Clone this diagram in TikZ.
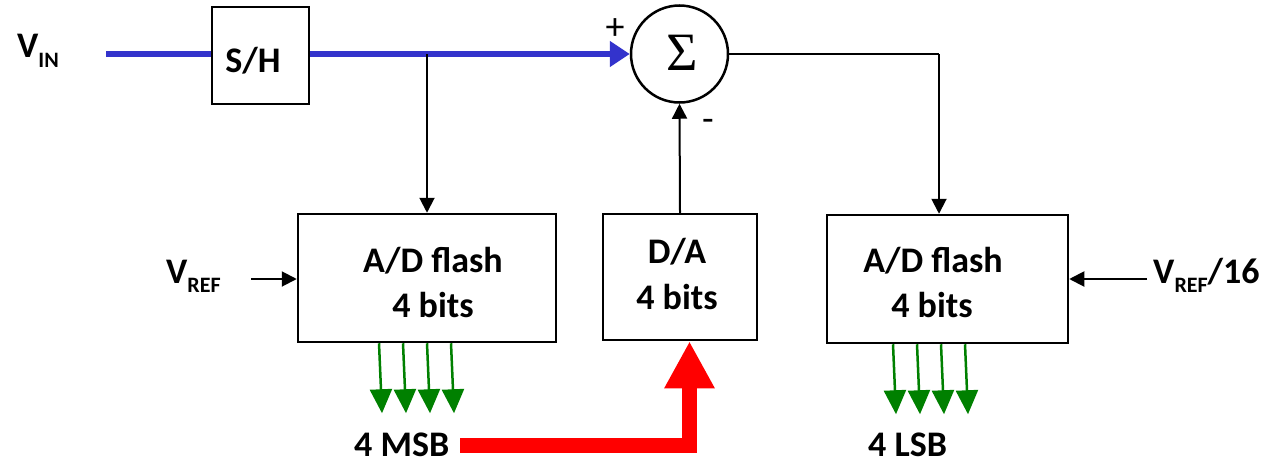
\documentclass[tikz,border=0pt]{standalone}
\usepackage{fontspec}
\setmainfont{Carlito}
\newfontfamily\sigmafont{Liberation Serif}
\usetikzlibrary{arrows.meta}

% lowered subscript for the voltage labels
\newcommand{\lowsub}[2][10pt]{\raisebox{-#1}{\fontsize{22}{22}\selectfont #2}}

\definecolor{sigblue}{RGB}{51,51,204}
\definecolor{bitgreen}{RGB}{0,128,0}

\tikzset{
  blk/.style={draw, line width=2.5pt, inner sep=0pt, minimum width=#1},
  txt/.style={inner sep=0pt, font=\fontsize{36}{40}\selectfont\bfseries},
  sign/.style={inner sep=0pt, font=\fontsize{38}{40}\selectfont},
  sig/.style={draw, line width=2pt, -{Triangle[length=15pt,width=15pt]}},
  mainpath/.style={draw=sigblue, line width=6pt},
  bit/.style={draw=bitgreen, line width=2.5pt, -{Triangle[length=24pt,width=22pt]}, bitgreen},
  bus/.style={draw=red, line width=15pt, line join=miter, -{Triangle[length=47pt,width=47pt]}, red}
}

\begin{document}
\begin{tikzpicture}[x=1pt, y=-1pt]
\useasboundingbox (0,0) rectangle (1273,463);

% blocks
\node[blk=97pt, minimum height=97pt] (sh) at (260.5,55.5) {};
\node[draw, circle, line width=2.5pt, inner sep=0pt, minimum size=97pt] (sum) at (679.5,54) {};
\node[blk=258pt, minimum height=128pt] (adc1) at (427,278) {};
\node[blk=154pt, minimum height=126pt] (dac) at (680,277) {};
\node[blk=241pt, minimum height=128pt] (adc2) at (947.5,279) {};

% block captions
\node[txt, anchor=base] (shlbl) at (253,72) {S/H};
\node[inner sep=0pt, font=\sigmafont\fontsize{54}{54}\selectfont] (sigma) at (682,53) {Σ};
\node[txt, anchor=base] (adc1a) at (433,272) {A/D flash};
\node[txt, anchor=base] (adc1b) at (433,317) {4 bits};
\node[txt, anchor=base] (daca) at (677,263) {D/A};
\node[txt, anchor=base] (dacb) at (677,309) {4 bits};
\node[txt, anchor=base] (adc2a) at (933,272) {A/D flash};
\node[txt, anchor=base] (adc2b) at (932,317) {4 bits};

% signal labels
\node[txt, anchor=base west] (vin) at (17,57) {V\lowsub{IN}};
\node[txt, anchor=base west] (vref) at (166,283) {V\lowsub[9pt]{REF}};
\node[txt, anchor=base west] (vref16) at (1153,283) {V\lowsub[9pt]{REF}/16};
\node[txt, anchor=base west] (msb) at (354,456) {4 MSB};
\node[txt, anchor=base west] (lsb) at (868,456) {4 LSB};
\node[sign] (plus) at (615,29) {+};
\node[sign] (minus) at (708,125) {-};

% input path through the sample-and-hold
\coordinate (vinstart) at (106,54);
\draw[mainpath] (vinstart) -- (vinstart -| sh.west);
\draw[mainpath, -{Triangle[length=20pt,width=25pt]}, sigblue] (sh.east |- sum.west) -- (sum.west);

% coarse conversion tap
\coordinate (tap) at (427,54);
\draw[sig] (tap) -- (adc1.north);

% residue to the fine converter
\coordinate (turn) at (939,54);
\draw[line width=2pt] (sum.east) -- (turn);
\draw[sig] (turn) -- (turn |- adc2.north);

% D/A feedback into the summer
\draw[sig] (dac.north) -- (sum.south);

% references
\coordinate (vrefin) at (251,279);
\draw[sig] (vrefin) -- (vrefin -| adc1.west);
\coordinate (vref16in) at (1147,279);
\draw[sig] (vref16in) -- (vref16in -| adc2.east);

% output bits
\foreach \i in {0,...,3} {
  \draw[bit] ([xshift={-48+24*\i}]adc1.south) -- ++(3,70);
  \draw[bit] ([xshift={-54.5+24*\i}]adc2.south) -- ++(3,70);
}

% MSB bus to the D/A
\coordinate (busstart) at (460,445);
\draw[bus] (busstart) -| ([xshift=9.5pt]dac.south);
\end{tikzpicture}
\end{document}
